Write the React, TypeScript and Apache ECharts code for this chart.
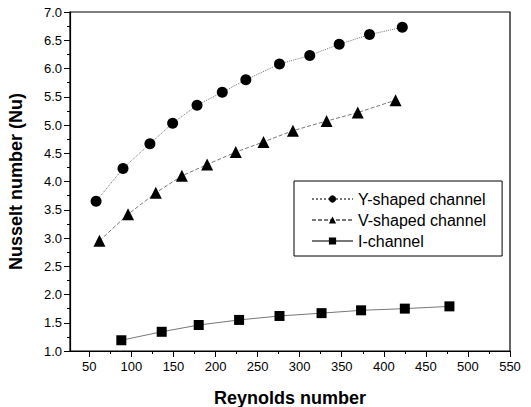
import React, { useEffect, useRef } from "react";
import * as echarts from "echarts";

const yShapedRe = [58, 90, 122, 149, 178, 208, 236, 276, 312, 347, 383, 422];
const yShapedNu = [3.65, 4.23, 4.67, 5.03, 5.35, 5.58, 5.80, 6.08, 6.23, 6.43, 6.60, 6.73];
const vShapedRe = [62, 96, 129, 160, 190, 224, 257, 292, 332, 369, 414];
const vShapedNu = [2.95, 3.42, 3.80, 4.10, 4.30, 4.52, 4.70, 4.90, 5.07, 5.22, 5.44];
const iChannelRe = [88, 136, 180, 228, 276, 326, 373, 425, 478];
const iChannelNu = [1.19, 1.34, 1.46, 1.55, 1.62, 1.67, 1.72, 1.75, 1.79];
const xTicks = [50, 100, 150, 200, 250, 300, 350, 400, 450, 500, 550];
const xMinorTicks = [75, 125, 175, 225, 275, 325, 375, 425, 475, 525];

const zip = (xs: number[], ys: number[]) => xs.map((x, i) => [x, ys[i]]);

export default function App() {
  const ref = useRef<HTMLDivElement>(null);
  useEffect(() => {
    if (!ref.current) return;
    const chart = echarts.init(ref.current, undefined, { renderer: "svg" });
    const font = "Liberation Sans";
    const lineCol = "#777";
    chart.setOption({
      animation: false,
      backgroundColor: "#fff",
      textStyle: { fontFamily: font },
      grid: {
        left: 70,
        top: 12,
        right: 21,
        bottom: 56,
        containLabel: false,
        outerBoundsMode: "none",
        show: true,
        borderColor: "#000",
        borderWidth: 1.2,
      },
      legend: {
        orient: "vertical",
        left: 294,
        top: 181,
        padding: [10, 16, 7, 17],
        itemGap: 5,
        itemWidth: 41,
        itemHeight: 9,
        borderColor: "#000",
        borderWidth: 1,
        backgroundColor: "#fff",
        textStyle: { fontFamily: font, fontSize: 16, lineHeight: 15, color: "#000" },
        data: ["Y-shaped channel", "V-shaped channel", "I-channel"],
      },
      xAxis: [
        {
          type: "value",
          min: 27,
          max: 550,
          name: "Reynolds number",
          nameLocation: "middle",
          nameGap: 38,
          nameTextStyle: { fontFamily: font, fontSize: 18, fontWeight: "bold", color: "#000" },
          axisLine: { lineStyle: { color: "#000", width: 1.2 } },
          axisTick: { show: true, customValues: xTicks, length: 6, lineStyle: { color: "#000" } },
          axisLabel: { customValues: xTicks, color: "#000", fontSize: 13, fontFamily: font, margin: 9 },
          splitLine: { show: false },
        },
        {
          type: "value",
          min: 27,
          max: 550,
          position: "bottom",
          axisLine: { show: false },
          axisTick: { show: true, customValues: xMinorTicks, length: 3, lineStyle: { color: "#000" } },
          axisLabel: { show: false },
          splitLine: { show: false },
        },
      ],
      yAxis: {
        type: "value",
        min: 1,
        max: 7,
        interval: 0.5,
        name: "Nusselt number (Nu)",
        nameLocation: "middle",
        nameGap: 45,
        nameTextStyle: { fontFamily: font, fontSize: 18, fontWeight: "bold", color: "#000" },
        axisLine: { show: true, lineStyle: { color: "#000", width: 1.2 } },
        axisTick: { show: true, length: 6, lineStyle: { color: "#000" } },
        minorTick: { show: true, splitNumber: 2, length: 3, lineStyle: { color: "#000" } },
        axisLabel: {
          color: "#000",
          fontSize: 13,
          fontFamily: font,
          margin: 8,
          formatter: (v: number) => v.toFixed(1),
        },
        splitLine: { show: false },
      },
      series: [
        {
          name: "Y-shaped channel",
          type: "line",
          data: zip(yShapedRe, yShapedNu),
          symbol: "circle",
          symbolSize: 11,
          itemStyle: { color: "#000" },
          lineStyle: { color: lineCol, width: 1, type: "dotted" },
        },
        {
          name: "V-shaped channel",
          type: "line",
          data: zip(vShapedRe, vShapedNu),
          symbol: "triangle",
          symbolSize: 12,
          itemStyle: { color: "#000" },
          lineStyle: { color: lineCol, width: 1, type: [4, 2] },
        },
        {
          name: "I-channel",
          type: "line",
          data: zip(iChannelRe, iChannelNu),
          symbol: "rect",
          symbolSize: 10,
          itemStyle: { color: "#000" },
          lineStyle: { color: lineCol, width: 1, type: "solid" },
        },
      ],
    });
    return () => chart.dispose();
  }, []);
  return <div ref={ref} style={{ width: 531, height: 407, position: "absolute", left: 0, top: 0 }} />;
}
